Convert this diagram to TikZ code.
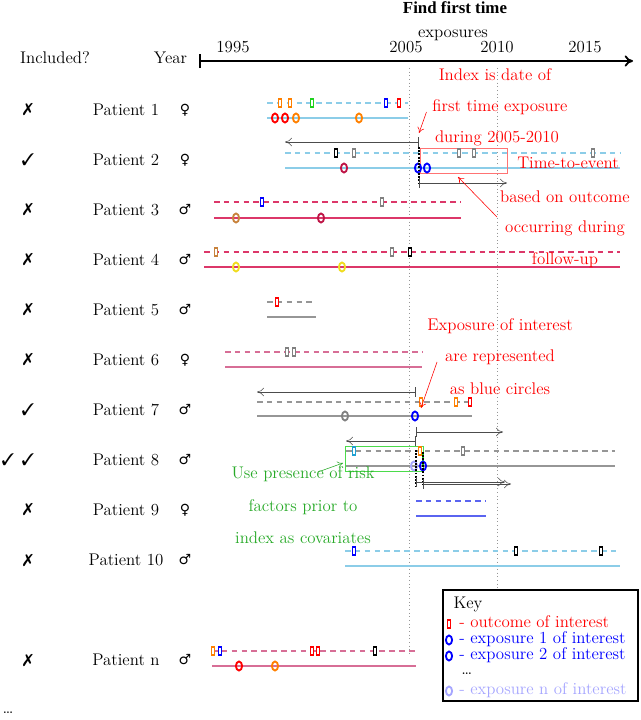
\documentclass[tikz,border=0pt]{standalone}
\usepackage{fontspec}
\usepackage{pifont}
\usepackage{xcolor}
\usepackage{tikz}
\usetikzlibrary{shapes.geometric,arrows.meta}
\usetikzlibrary{positioning}
\newfontfamily\symfont{DejaVu Sans}
\newfontfamily\headfont{Liberation Serif}
\definecolor{skyln}{RGB}{140,205,232}
\definecolor{raspln}{RGB}{220,55,105}
\definecolor{roseln}{RGB}{215,110,150}
\definecolor{crimsn}{RGB}{190,20,70}
\definecolor{ochre}{RGB}{200,130,60}
\definecolor{yell}{RGB}{240,220,30}
\definecolor{tealx}{RGB}{30,160,210}
\definecolor{grn}{RGB}{30,210,30}
\definecolor{txtgrn}{RGB}{40,170,40}
\definecolor{rblue}{RGB}{90,100,240}
\definecolor{lgray}{RGB}{150,150,150}
\tikzstyle{line} = [draw, -{To[length=4pt,width=5pt]}]
\tikzstyle{fwd} = [draw=black!70, {Bar[width=7pt]}-{To[length=5pt,width=6pt]}]
\tikzstyle{bwd} = [draw=black!70, {To[length=5pt,width=6pt]}-{Bar[width=7pt]}]

\begin{document}
\begin{tikzpicture}[x=0.025cm, y=-0.025cm,
		every node/.style={font=\large},
		outc/.style={draw=#1, fill=white, rectangle, line width=1.1pt,
		inner sep=0pt, minimum width=2.4pt, minimum height=6pt},
		expo/.style={draw=#1, ellipse, line width=1.3pt,
		inner sep=0pt, minimum width=4.4pt, minimum height=6.4pt},
		obs/.style={draw=#1, line width=0.9pt, dash pattern=on 4pt off 3pt},
		fup/.style={draw=#1, line width=1pt},
		tick/.style={draw=black, densely dotted, line width=1.3pt},
		keytxt/.style={anchor=west, inner sep=0pt, text height=6.5pt, text depth=1pt}]
		\useasboundingbox (0,0) rectangle (640,720);
		%% Header and time axis
		\node (incl) at (55,58) {Included?};
		\node [anchor=east] (year) at (192,58) {Year};
		\node [font=\headfont\large\bfseries] (find) at (455,8) {Find first time};
		\node (expos) at (453,35) {exposures};
		\coordinate (ax0) at (199,61);
		\coordinate (ax1) at (633,61);
		\draw [line width=1.3pt, {Bar[width=10pt]}-{To[length=6pt,width=8pt]}] (ax0) -- (ax1);
		\foreach \yr/\x in {1995/233, 2005/406, 2010/497, 2015/585}
			\node (y\yr) at (\x,47) {\yr};
		\draw [lgray, dotted, line width=0.6pt] (409,68) -- (409,655);
		\draw [lgray, dotted, line width=0.6pt] (497,68) -- (497,600);
		%% Row labels
		\foreach \y/\p/\s in {110/1/♀, 160/2/♀, 210/3/♂, 260/4/♂, 310/5/♂, 360/6/♀,
			410/7/♂, 460/8/♂, 510/9/♀, 560/10/♂, 660/n/♂} {
			\node (pat\p) at (126,\y) {Patient \p};
			\node [font=\symfont] (sex\p) at (185,\y) {\s};
		}
		\foreach \y/\p in {110/1, 210/3, 260/4, 310/5, 360/6, 510/9, 560/10, 660/n}
			\node (no\p) at (28,\y) {\ding{55}};
		\foreach \y/\p in {160/2, 410/7, 460/8}
			\node (ok\p) at (28,\y) {\ding{51}};
		\node (okx8) at (8,460) {\ding{51}};
		\node (more) at (8,713) {\dots};
		%% Patient 1
		\draw [obs=skyln] (267,103) -- (408,103);
		\draw [fup=skyln] (267,118) -- (408,118);
		\foreach \x/\c [count=\i] in {280/orange, 290/orange, 312/grn, 386/blue, 399/red}
			\node [outc=\c] (a1\i) at (\x,103) {};
		\foreach \x/\c [count=\i] in {275/red, 285/red, 296/orange, 359/orange}
			\node [expo=\c] (e1\i) at (\x,118) {};
		%% Patient 2
		\draw [bwd] (285,142) -- (419,142);
		\draw [obs=skyln] (285,153) -- (620,153);
		\draw [fup=skyln] (285,168) -- (620,168);
		\draw [red!55, line width=0.7pt] (420,148) rectangle (507,173);
		\foreach \x/\c [count=\i] in {336/black, 354/gray, 459/gray, 474/gray, 593/gray}
			\node [outc=\c] (a2\i) at (\x,153) {};
		\foreach \x/\c [count=\i] in {344/crimsn, 418/blue, 427/blue}
			\node [expo=\c] (e2\i) at (\x,168) {};
		\draw [tick] (419,147) -- (419,184);
		\draw [fwd] (419,183) -- (507,183);
		%% Patient 3
		\draw [obs=raspln] (214,202) -- (461,202);
		\draw [fup=raspln] (214,218) -- (461,218);
		\foreach \x/\c [count=\i] in {262/blue, 382/gray}
			\node [outc=\c] (a3\i) at (\x,202) {};
		\foreach \x/\c [count=\i] in {236/ochre, 321/crimsn}
			\node [expo=\c] (e3\i) at (\x,218) {};
		%% Patient 4
		\draw [obs=raspln] (204,252) -- (620,252);
		\draw [fup=raspln] (204,267) -- (620,267);
		\foreach \x/\c [count=\i] in {216/ochre, 392/gray, 410/black}
			\node [outc=\c] (a4\i) at (\x,252) {};
		\foreach \x/\c [count=\i] in {236/yell, 342/yell}
			\node [expo=\c] (e4\i) at (\x,267) {};
		%% Patient 5
		\draw [obs=lgray] (267,302) -- (316,302);
		\draw [fup=lgray] (267,317) -- (316,317);
		\node [outc=red] (a51) at (277,302) {};
		%% Patient 6
		\draw [obs=roseln] (225,352) -- (422,352);
		\draw [fup=roseln] (225,367) -- (422,367);
		\foreach \x [count=\i] in {287, 294}
			\node [outc=gray] (a6\i) at (\x,352) {};
		%% Patient 7
		\draw [bwd] (257,392) -- (416,392);
		\draw [obs=lgray] (257,402) -- (473,402);
		\draw [fup=lgray] (257,416) -- (472,416);
		\foreach \x/\c [count=\i] in {421/orange, 456/orange, 470/red}
			\node [outc=\c] (a7\i) at (\x,402) {};
		\foreach \x/\c [count=\i] in {345/gray, 415/blue}
			\node [expo=\c] (e7\i) at (\x,416) {};
		%% Patient 8
		\draw [fwd] (416,432) -- (503,432);
		\draw [bwd] (346,441) -- (416,441);
		\draw [obs=lgray] (346,451) -- (615,451);
		\draw [fup=lgray] (346,466) -- (615,466);
		\draw [grn!80, line width=0.6pt] (345,446) rectangle (423,471);
		\foreach \x/\c [count=\i] in {354/tealx, 420/orange, 463/gray}
			\node [outc=\c] (a8\i) at (\x,451) {};
		\draw [grn, line width=0.9pt] (423,452) -- (423,466);
		\foreach \x/\c [count=\i] in {414/blue!35, 423/blue}
			\node [expo=\c] (e8\i) at (\x,466) {};
		\draw [tick] (416,450) -- (416,487);
		\draw [tick] (423,452) -- (423,485);
		\draw [fwd] (416,482) -- (505,482);
		\draw [fwd] (423,484) -- (511,484);
		%% Patient 9
		\draw [obs=rblue] (416,501) -- (486,501);
		\draw [fup=rblue] (416,516) -- (486,516);
		%% Patient 10
		\draw [obs=skyln] (345,551) -- (620,551);
		\draw [fup=skyln] (345,566) -- (620,566);
		\foreach \x/\c [count=\i] in {354/blue, 516/black, 601/black}
			\node [outc=\c] (a10\i) at (\x,551) {};
		%% Patient n
		\draw [obs=roseln] (212,651) -- (416,651);
		\draw [fup=roseln] (212,666) -- (416,666);
		\foreach \x/\c [count=\i] in {213/orange, 220/blue, 312/red, 318/red, 375/black}
			\node [outc=\c] (an\i) at (\x,651) {};
		\foreach \x/\c [count=\i] in {239/red, 275/orange}
			\node [expo=\c] (en\i) at (\x,666) {};
		%% Notes
		\node [red] (idx1) at (495,75) {Index is date of};
		\node [red] (idx2) at (500,107) {first time exposure};
		\node [red] (idx3) at (497,138) {during 2005-2010};
		\coordinate (idxtip) at (419,133);
		\path [line, red, thin] (idx2.west) ++(-1,5) -- (idxtip);
		\node [red] (tte) at (568,163) {Time-to-event};
		\node [red] (bo1) at (565,197) {based on outcome};
		\node [red] (bo2) at (565,228) {occurring during};
		\node [red] (bo3) at (565,260) {follow-up};
		\coordinate (botail) at (497,217);
		\coordinate (botip) at (458,177);
		\path [line, red, thin] (botail) -- (botip);
		\node [red] (ex1) at (500,326) {Exposure of interest};
		\node [red] (ex2) at (500,357) {are represented};
		\node [red] (ex3) at (500,389) {as blue circles};
		\coordinate (extail) at (437,362);
		\coordinate (extip) at (421,408);
		\path [line, red, thin] (extail) -- (extip);
		\node [txtgrn] (rf1) at (303,474) {Use presence of risk};
		\node [txtgrn] (rf2) at (303,507) {factors prior to};
		\node [txtgrn] (rf3) at (303,538) {index as covariates};
		\coordinate (rftail) at (318,472);
		\coordinate (rftip) at (343,463);
		\path [line, txtgrn, thin] (rftail) -- (rftip);
		%% Key
		\draw [line width=1.6pt, fill=white] (443,590) rectangle (638,701);
		\node (key) at (468,604) {Key};
		\node [outc=red] (kout) at (449,624) {};
		\node [keytxt, red] (kouttxt) at (459,624) {- outcome of interest};
		\node [expo=blue] (ke1) at (449,640) {};
		\node [keytxt, blue] (ke1txt) at (459,640) {- exposure 1 of interest};
		\node [expo=blue] (ke2) at (449,656) {};
		\node [keytxt, blue] (ke2txt) at (459,656) {- exposure 2 of interest};
		\node [keytxt] (kdots) at (461,671) {\dots};
		\node [expo=blue!35] (ken) at (449,691) {};
		\node [keytxt, blue!35] (kentxt) at (459,691) {- exposure n of interest};
	\end{tikzpicture}
\end{document}
